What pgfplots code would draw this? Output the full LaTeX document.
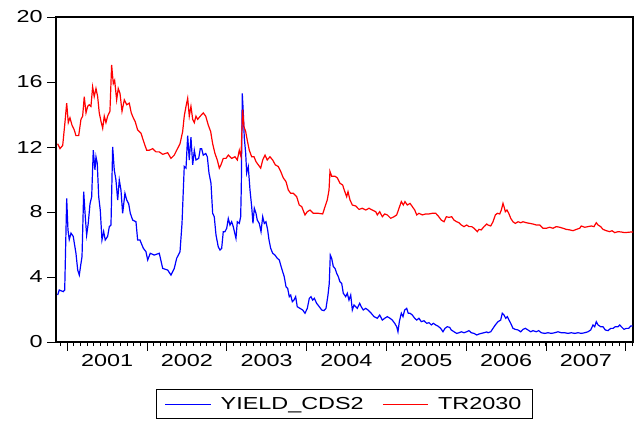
\documentclass[border=0pt]{standalone}
\usepackage{fontspec}
\setmainfont{Liberation Sans}
\usepackage{graphicx}
\usepackage{pgfplots}
\usepackage{pgfplotstable}
\pgfplotsset{compat=1.18}
\newcommand{\sx}[1]{\scalebox{1.35}[1]{#1}}

\pgfplotstableread{
x y
2000.881 2.89
2000.901 3.20
2000.951 3.10
2000.969 3.20
2000.994 8.84
2001.010 6.90
2001.026 6.30
2001.048 6.70
2001.076 6.50
2001.110 5.46
2001.132 4.43
2001.152 4.12
2001.173 4.84
2001.186 5.25
2001.207 9.25
2001.227 7.70
2001.244 6.58
2001.264 7.30
2001.286 8.50
2001.307 8.94
2001.327 11.80
2001.348 10.60
2001.361 11.40
2001.377 11.00
2001.395 8.94
2001.415 8.10
2001.436 6.28
2001.457 6.80
2001.477 6.28
2001.507 6.50
2001.528 7.10
2001.549 7.20
2001.570 12.00
2001.590 10.60
2001.611 9.97
2001.633 8.74
2001.653 9.97
2001.674 9.35
2001.695 7.92
2001.724 9.15
2001.746 8.74
2001.771 8.50
2001.791 7.92
2001.821 7.50
2001.862 7.40
2001.883 6.28
2001.912 6.28
2001.954 5.77
2001.987 5.56
2002.009 5.05
2002.041 5.46
2002.091 5.35
2002.154 5.46
2002.197 4.53
2002.259 4.43
2002.301 4.12
2002.342 4.53
2002.372 5.15
2002.414 5.56
2002.439 7.30
2002.467 10.80
2002.489 10.70
2002.510 12.70
2002.530 11.20
2002.551 12.60
2002.573 10.90
2002.593 11.80
2002.614 11.20
2002.648 11.30
2002.668 11.90
2002.685 11.90
2002.705 11.50
2002.736 11.60
2002.756 11.40
2002.777 10.40
2002.802 9.77
2002.823 7.92
2002.843 7.71
2002.865 6.58
2002.893 5.86
2002.915 5.66
2002.936 5.77
2002.956 6.79
2002.977 6.79
2002.999 7.00
2003.019 7.60
2003.040 7.20
2003.061 7.40
2003.081 7.10
2003.115 6.38
2003.132 7.40
2003.157 7.30
2003.174 7.71
2003.182 9.56
2003.194 15.30
2003.207 14.10
2003.219 12.60
2003.237 11.60
2003.249 10.40
2003.269 10.80
2003.291 9.35
2003.312 8.33
2003.328 7.30
2003.345 8.23
2003.366 7.92
2003.382 7.50
2003.407 7.30
2003.429 6.79
2003.450 7.71
2003.470 7.30
2003.491 7.40
2003.512 6.90
2003.529 6.28
2003.550 5.77
2003.575 5.46
2003.604 5.35
2003.633 5.15
2003.658 5.05
2003.675 4.74
2003.700 4.33
2003.720 4.02
2003.742 3.40
2003.763 3.30
2003.783 2.79
2003.801 2.89
2003.821 2.48
2003.842 2.58
2003.863 2.79
2003.883 2.17
2003.917 2.07
2003.951 1.97
2003.980 1.77
2004.009 2.07
2004.034 2.69
2004.055 2.79
2004.076 2.58
2004.097 2.69
2004.126 2.38
2004.159 2.17
2004.189 1.97
2004.218 1.93
2004.243 2.07
2004.268 2.89
2004.284 3.60
2004.297 5.35
2004.314 5.15
2004.335 4.64
2004.356 4.53
2004.377 4.23
2004.397 4.02
2004.418 3.71
2004.440 3.60
2004.460 3.00
2004.490 2.79
2004.510 3.00
2004.531 2.58
2004.553 2.89
2004.573 1.97
2004.594 2.28
2004.615 2.17
2004.635 2.07
2004.665 2.38
2004.685 2.17
2004.710 1.97
2004.741 2.07
2004.769 1.97
2004.803 1.81
2004.845 1.56
2004.886 1.46
2004.916 1.66
2004.949 1.35
2004.979 1.46
2005.011 1.56
2005.045 1.46
2005.074 1.35
2005.104 1.15
2005.129 0.94
2005.145 0.63
2005.162 1.25
2005.187 1.77
2005.208 1.56
2005.229 1.97
2005.254 2.07
2005.274 1.77
2005.296 1.77
2005.325 1.66
2005.355 1.46
2005.380 1.35
2005.408 1.46
2005.437 1.25
2005.471 1.31
2005.505 1.15
2005.534 1.19
2005.563 1.05
2005.588 1.15
2005.618 1.05
2005.646 0.98
2005.680 0.84
2005.709 0.63
2005.734 0.84
2005.763 0.94
2005.793 0.90
2005.813 0.74
2005.847 0.63
2005.881 0.53
2005.910 0.57
2005.939 0.63
2005.972 0.57
2006.006 0.63
2006.035 0.70
2006.064 0.57
2006.098 0.53
2006.132 0.43
2006.160 0.49
2006.189 0.53
2006.223 0.57
2006.257 0.62
2006.273 0.57
2006.307 0.63
2006.336 0.84
2006.365 1.05
2006.398 1.25
2006.432 1.35
2006.452 1.77
2006.474 1.66
2006.495 1.46
2006.515 1.56
2006.536 1.35
2006.558 1.15
2006.586 0.84
2006.615 0.78
2006.649 0.74
2006.683 0.63
2006.712 0.78
2006.741 0.84
2006.774 0.74
2006.808 0.63
2006.837 0.70
2006.878 0.63
2006.908 0.70
2006.941 0.57
2006.984 0.53
2007.025 0.57
2007.066 0.53
2007.109 0.57
2007.150 0.63
2007.192 0.57
2007.234 0.57
2007.276 0.53
2007.317 0.57
2007.360 0.53
2007.401 0.57
2007.442 0.53
2007.485 0.57
2007.526 0.63
2007.560 0.74
2007.589 1.05
2007.610 0.94
2007.630 1.25
2007.652 1.05
2007.685 0.94
2007.714 0.94
2007.743 0.74
2007.777 0.70
2007.811 0.84
2007.840 0.84
2007.868 0.94
2007.902 0.94
2007.923 1.05
2007.944 0.94
2007.977 0.78
2008.006 0.84
2008.036 0.84
2008.061 0.98
2008.086 0.98
}\cds

\pgfplotstableread{
x y
2000.881 12.20
2000.910 11.90
2000.944 12.10
2000.972 13.50
2000.994 14.70
2001.014 13.50
2001.035 13.80
2001.060 13.35
2001.089 13.05
2001.110 12.70
2001.144 12.70
2001.173 13.70
2001.194 13.90
2001.214 15.10
2001.236 14.10
2001.257 14.50
2001.277 14.60
2001.298 14.50
2001.319 15.70
2001.339 15.10
2001.361 15.60
2001.382 15.10
2001.402 14.10
2001.423 13.60
2001.445 13.15
2001.465 13.90
2001.486 13.50
2001.507 13.90
2001.536 14.20
2001.557 17.05
2001.578 15.90
2001.595 16.10
2001.620 14.90
2001.640 15.60
2001.662 15.30
2001.687 14.20
2001.716 14.90
2001.746 14.60
2001.778 14.70
2001.803 14.10
2001.828 13.80
2001.853 13.55
2001.883 13.05
2001.925 12.85
2001.954 12.40
2001.996 11.80
2002.029 11.80
2002.071 11.90
2002.113 11.70
2002.154 11.70
2002.197 11.55
2002.259 11.65
2002.301 11.30
2002.342 11.50
2002.372 11.80
2002.414 12.20
2002.447 12.95
2002.467 13.90
2002.489 14.50
2002.510 15.00
2002.530 13.90
2002.551 14.50
2002.573 13.70
2002.593 13.50
2002.614 13.90
2002.635 13.70
2002.668 13.90
2002.705 14.10
2002.736 13.90
2002.768 13.35
2002.798 12.95
2002.823 12.20
2002.852 11.60
2002.881 11.20
2002.906 10.70
2002.927 10.90
2002.956 11.30
2002.990 11.30
2003.019 11.50
2003.061 11.30
2003.103 11.40
2003.132 11.20
2003.157 11.80
2003.178 11.40
2003.199 14.30
2003.215 13.25
2003.237 12.95
2003.257 12.40
2003.282 11.80
2003.312 11.40
2003.341 11.40
2003.366 11.10
2003.395 10.90
2003.425 10.70
2003.450 11.20
2003.479 11.50
2003.507 11.20
2003.541 11.40
2003.575 11.20
2003.608 10.90
2003.645 10.80
2003.675 10.50
2003.708 10.10
2003.742 9.87
2003.771 9.35
2003.801 9.15
2003.833 9.15
2003.876 8.94
2003.908 8.43
2003.939 8.33
2003.980 7.82
2004.009 8.02
2004.043 8.12
2004.084 7.92
2004.147 7.92
2004.202 7.88
2004.231 8.33
2004.259 8.74
2004.281 9.35
2004.293 10.50
2004.314 10.20
2004.356 10.20
2004.385 10.10
2004.418 9.77
2004.452 9.66
2004.472 9.35
2004.502 8.94
2004.519 9.25
2004.544 8.74
2004.573 8.43
2004.615 8.37
2004.657 8.16
2004.698 8.23
2004.741 8.12
2004.782 8.23
2004.823 8.12
2004.866 8.02
2004.886 7.82
2004.916 8.02
2004.949 7.71
2004.979 7.88
2005.011 7.82
2005.054 7.61
2005.095 7.71
2005.129 7.82
2005.158 8.23
2005.187 8.64
2005.212 8.43
2005.233 8.64
2005.262 8.43
2005.296 8.53
2005.325 8.33
2005.355 8.12
2005.380 7.82
2005.408 7.92
2005.450 7.82
2005.492 7.88
2005.534 7.88
2005.575 7.92
2005.618 7.92
2005.650 7.75
2005.688 7.50
2005.722 7.40
2005.751 7.71
2005.784 7.67
2005.818 7.71
2005.847 7.50
2005.881 7.40
2005.910 7.34
2005.939 7.20
2005.972 7.10
2006.006 7.20
2006.035 7.10
2006.069 7.10
2006.098 7.00
2006.119 6.90
2006.139 6.79
2006.160 6.93
2006.189 6.90
2006.223 7.10
2006.257 7.26
2006.273 7.20
2006.307 7.14
2006.336 7.40
2006.365 7.82
2006.390 7.92
2006.420 7.88
2006.440 8.12
2006.461 8.53
2006.474 8.33
2006.490 8.02
2006.511 8.12
2006.533 7.92
2006.558 7.61
2006.586 7.40
2006.615 7.30
2006.649 7.40
2006.683 7.34
2006.712 7.40
2006.753 7.34
2006.796 7.30
2006.837 7.26
2006.878 7.20
2006.921 7.20
2006.962 7.00
2007.004 7.00
2007.046 7.06
2007.088 7.00
2007.129 7.10
2007.172 7.06
2007.213 7.00
2007.254 6.93
2007.297 6.90
2007.338 6.85
2007.380 6.93
2007.422 7.00
2007.442 7.14
2007.485 7.06
2007.526 7.10
2007.568 7.14
2007.601 7.10
2007.630 7.34
2007.652 7.20
2007.685 7.10
2007.714 6.93
2007.756 6.85
2007.798 6.79
2007.827 6.85
2007.861 6.73
2007.902 6.79
2007.944 6.77
2007.986 6.73
2008.028 6.75
2008.069 6.77
2008.090 6.77
}\trtable

\begin{document}
\begin{tikzpicture}
\path[use as bounding box] (-42pt,-60pt) rectangle (436.5pt,256.5pt);
\begin{axis}[
  scale only axis,
  width=432.75pt, height=243.75pt,
  xmin=2000.86, xmax=2008.09,
  ymin=0, ymax=20,
  axis line style={line width=1pt},
  tick align=outside,
  xtick pos=lower, ytick pos=left,
  tick style={black, line width=0.6pt},
  major tick length=6.5pt,
  minor tick length=3pt,
  ytick={0,4,8,12,16,20},
  yticklabels={\sx{0},\sx{4},\sx{8},\sx{12},\sx{16},\sx{20}},
  xtick={2001,2002,2003,2004,2005,2006,2007,2008},
  xticklabels={},
  minor xtick={2000.9167,2001,2001.0833,...,2008.09},
  extra x ticks={2001.5,2002.5,2003.5,2004.5,2005.5,2006.5,2007.5},
  extra x tick labels={\sx{2001},\sx{2002},\sx{2003},\sx{2004},\sx{2005},\sx{2006},\sx{2007}},
  extra x tick style={major tick length=0pt, tick style={draw=none},
     xticklabel style={yshift=-6pt}},
  tick label style={font=\fontsize{13}{15}\selectfont, black},
  legend columns=2,
  legend style={at={(0.5,-0.145)}, anchor=north, draw=black, line width=0.8pt,
    font=\fontsize{13}{15}\selectfont, inner xsep=6pt, inner ysep=3.5pt,
    /tikz/every odd column/.append style={column sep=5pt},
    /tikz/every even column/.append style={column sep=12pt}},
  legend image code/.code={\draw[#1, line width=0.8pt] (0pt,0pt) -- (34pt,0pt);},
]
\addplot[blue, line width=0.9pt] table {\cds};
\addlegendentry{\sx{YIELD\_CDS2}}
\addplot[red, line width=0.9pt] table {\trtable};
\addlegendentry{\sx{TR2030}}
\end{axis}
\end{tikzpicture}
\end{document}
